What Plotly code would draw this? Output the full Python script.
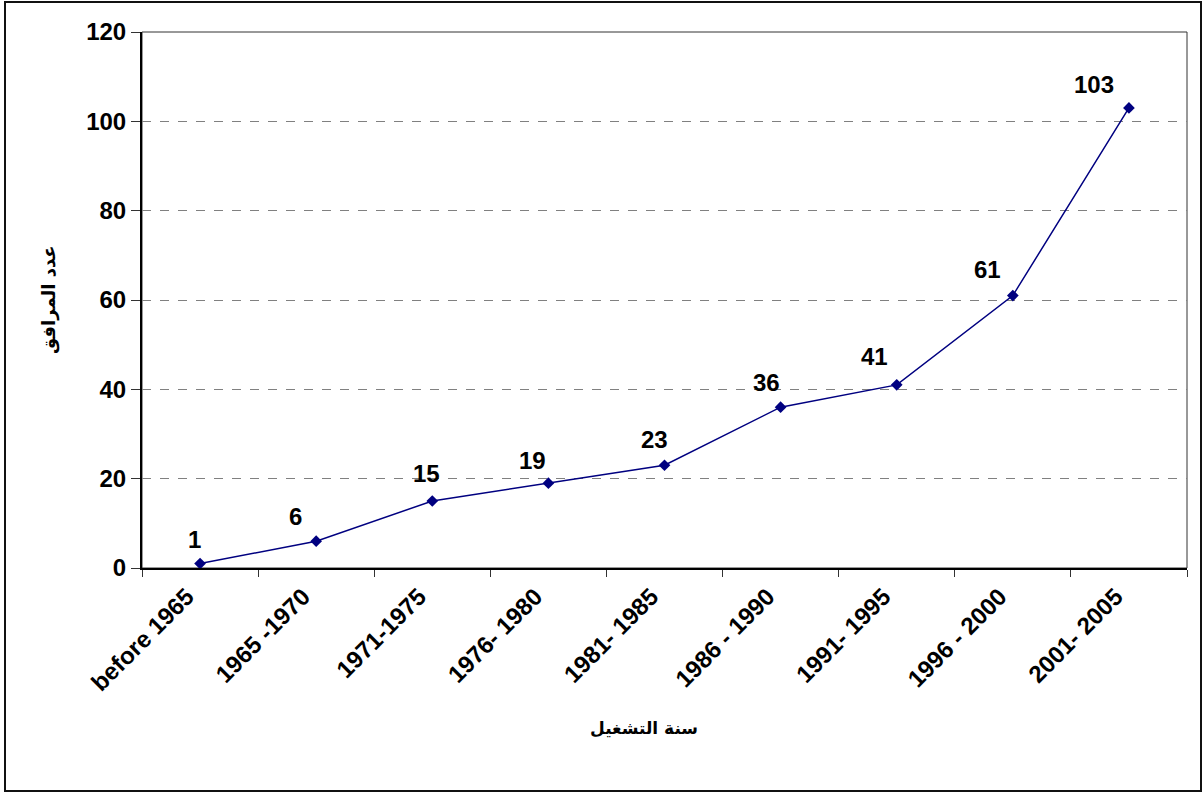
import plotly.graph_objects as go

categories = ["before 1965", "1965 -1970", "1971-1975", "1976- 1980", "1981- 1985",
              "1986 - 1990", "1991- 1995", "1996 - 2000", "2001- 2005"]
values = [1, 6, 15, 19, 23, 36, 41, 61, 103]
y_ticks = [0, 20, 40, 60, 80, 100, 120]

x_title = "سنة التشغيل"
y_title = "عدد المرافق"

# style: label offsets (pixels) relative to each point
label_dx = [-6, -21, -6, -16, -10, -14, -22, -25, -35]
label_dy = [24, 25, 28, 23, 26, 25, 28, 26, 23]

W, H = 1204, 793
ML, MR, MT, MB = 142, 17, 32, 225
pw, ph = W - ML - MR, H - MT - MB

FONT = "Liberation Sans, Arial"

fig = go.Figure()
fig.add_trace(go.Scatter(
    x=categories, y=values, mode="lines+markers",
    line=dict(color="#000080", width=1.5),
    marker=dict(symbol="diamond", size=9, color="#000080"),
    hoverinfo="x+y", showlegend=False,
))

for c, v, dx, dy in zip(categories, values, label_dx, label_dy):
    fig.add_annotation(x=c, y=v, text=f"<b>{v}</b>", showarrow=False,
                       xshift=dx, yshift=dy,
                       font=dict(family=FONT, size=24, color="black"))

# plot area frame (thin)
fig.add_shape(type="rect", xref="paper", yref="paper", x0=0, x1=1, y0=0, y1=1,
              line=dict(color="#333333", width=1), layer="below")
# outer chart frame
fig.add_shape(type="rect", xref="paper", yref="paper",
              x0=(5 - ML) / pw, x1=(1201 - ML) / pw,
              y0=(H - MB - 791) / ph, y1=(H - MB - 2) / ph,
              line=dict(color="#111111", width=2))

fig.add_annotation(xref="paper", yref="paper", x=(644 - ML) / pw, y=(H - MB - 740) / ph,
                   text=f"<b>{x_title}</b>", showarrow=False,
                   font=dict(family="DejaVu Sans", size=17, color="black"))
fig.add_annotation(xref="paper", yref="paper", x=(36 - ML) / pw, y=0.5,
                   text=f"<b>{y_title}</b>", showarrow=False, textangle=-90,
                   font=dict(family="DejaVu Sans", size=18, color="black"))

fig.update_layout(
    width=W, height=H,
    margin=dict(l=ML, r=MR, t=MT, b=MB),
    paper_bgcolor="white", plot_bgcolor="white",
    font=dict(family=FONT, color="black"),
    xaxis=dict(
        type="category", range=[-0.5, len(categories) - 0.5],
        tickson="boundaries", ticks="outside", ticklen=7, tickcolor="#333333", tickwidth=1,
        tickangle=-45, tickfont=dict(size=24, family=FONT, color="black"),
        tickvals=categories, ticktext=[f"<b>{c}</b>" for c in categories],
        ticklabelshift=-13, ticklabelstandoff=3,
        showgrid=False, showline=True, linecolor="black", linewidth=2,
        zeroline=False,
    ),
    yaxis=dict(
        range=[0, 120], tickvals=y_ticks, ticktext=[f"<b>{t}</b>" for t in y_ticks],
        ticks="outside", ticklen=9, tickcolor="#333333", tickwidth=1,
        tickfont=dict(size=24, family=FONT, color="black"),
        showgrid=True, gridcolor="#808080", griddash="dash", gridwidth=1,
        showline=True, linecolor="black", linewidth=2, zeroline=False,
    ),
)

fig.write_html("out.html", config={"displayModeBar": False},
               post_script="document.body.style.margin='0';")
